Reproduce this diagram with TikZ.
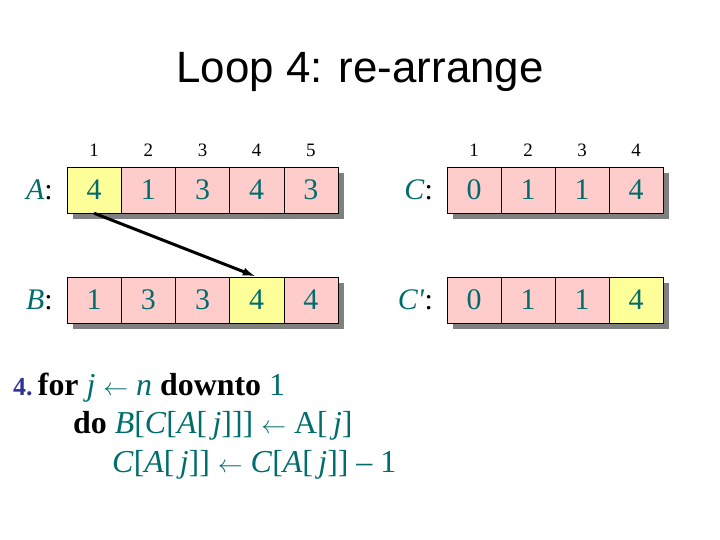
\documentclass[tikz,border=0pt]{standalone}
\usepackage{fontspec}
\usepackage{tikz}
\usetikzlibrary{shadows,arrows.meta}
\setmainfont{Liberation Serif}
\newfontfamily\titlefont{Liberation Sans}
\definecolor{tealtxt}{RGB}{0,108,108}
\definecolor{navytxt}{RGB}{51,51,153}
\definecolor{cellpink}{RGB}{255,204,204}
\definecolor{cellyellow}{RGB}{255,255,153}

\tikzset{
	cell/.style={shape=rectangle,draw=black,fill=cellpink,minimum width=54.2bp,minimum height=46bp,inner sep=0pt,
		text=tealtxt,font=\fontsize{30}{34}\selectfont,
		general shadow={fill=gray,shadow xshift=6bp,shadow yshift=-6bp}},
	hot/.style={fill=cellyellow},
	idx/.style={font=\fontsize{19}{22}\selectfont,inner sep=0pt},
	arrname/.style={anchor=east,inner sep=0pt,font=\fontsize{30}{34}\selectfont},
	codeline/.style={anchor=base west,inner sep=0pt,text=tealtxt,font=\fontsize{32}{36}\selectfont}
}
\newcommand{\getsarrow}{$\leftarrow$}
\newcommand{\jx}{\,\textit{j}}

\begin{document}
\begin{tikzpicture}[x=1bp,y=-1bp]
	\useasboundingbox (0,0) rectangle (720,540);

	\node[anchor=base,font=\titlefont\fontsize{44}{50}\selectfont] (title) at (360,83) {Loop 4: re-arrange};

	% index numbers
	\node[idx] (ia1) at (94.1,150) {1};
	\node[idx] (ia2) at (148.3,150) {2};
	\node[idx] (ia3) at (202.5,150) {3};
	\node[idx] (ia4) at (256.7,150) {4};
	\node[idx] (ia5) at (310.9,150) {5};
	\node[idx] (ic1) at (474,150) {1};
	\node[idx] (ic2) at (528,150) {2};
	\node[idx] (ic3) at (582,150) {3};
	\node[idx] (ic4) at (636,150) {4};

	% array names
	\node[arrname] (nA) at (53,190) {\textcolor{tealtxt}{\textit{A}}:};
	\node[arrname] (nB) at (53,300) {\textcolor{tealtxt}{\textit{B}}:};
	\node[arrname] (nC) at (433,190) {\textcolor{tealtxt}{\textit{C}}:};
	\node[arrname] (nCp) at (433,300) {\textcolor{tealtxt}{\textit{C\textquotesingle}}:};

	% array A
	\node[cell,hot] (A1) at (94.1,190) {4};
	\node[cell] (A2) at (148.3,190) {1};
	\node[cell] (A3) at (202.5,190) {3};
	\node[cell] (A4) at (256.7,190) {4};
	\node[cell] (A5) at (310.9,190) {3};

	% array B
	\node[cell] (B1) at (94.1,300) {1};
	\node[cell] (B2) at (148.3,300) {3};
	\node[cell] (B3) at (202.5,300) {3};
	\node[cell,hot] (B4) at (256.7,300) {4};
	\node[cell] (B5) at (310.9,300) {4};

	% array C
	\node[cell] (C1) at (474,190) {0};
	\node[cell] (C2) at (528,190) {1};
	\node[cell] (C3) at (582,190) {1};
	\node[cell] (C4) at (636,190) {4};

	% array C'
	\node[cell] (Cp1) at (474,300) {0};
	\node[cell] (Cp2) at (528,300) {1};
	\node[cell] (Cp3) at (582,300) {1};
	\node[cell,hot] (Cp4) at (636,300) {4};

	\path [-{Latex[length=14bp,width=8bp]},line width=3bp](A1.south) edge (B4.north);

	% pseudocode
	\node[codeline] (line1) at (13,395) {{\color{navytxt}\fontsize{26}{30}\selectfont\bfseries 4.}\,\textcolor{black}{\textbf{for}} \textit{j} \getsarrow{} \textit{n} \textcolor{black}{\textbf{downto}} 1};
	\node[codeline] (line2) at (73,433) {\textcolor{black}{\textbf{do}} \textit{B}[\textit{C}[\textit{A}[\jx]]] \getsarrow{} A[\jx]};
	\node[codeline] (line3) at (112,472) {\textit{C}[\textit{A}[\jx]] \getsarrow{} \textit{C}[\textit{A}[\jx]] – 1};
\end{tikzpicture}
\end{document}
